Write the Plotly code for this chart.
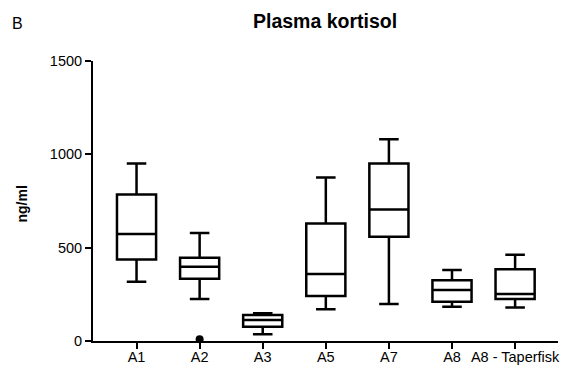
import plotly.graph_objects as go

categories = ["A1", "A2", "A3", "A5", "A7", "A8", "A8 - Taperfisk"]
lower_whisker = [317, 225, 36, 170, 198, 184, 180]
q1_vals = [437, 333, 77, 241, 558, 210, 225]
median_vals = [573, 398, 112, 359, 705, 273, 252]
q3_vals = [785, 446, 139, 630, 951, 325, 385]
upper_whisker = [951, 578, 148, 876, 1081, 380, 462]
outlier_x = ["A2"]
outlier_y = [10]
y_ticks = [0, 500, 1000, 1500]

# plot area in pixels
L, R, T, B = 93, 558, 61, 341
W, H = R - L, B - T


def px(x):
    return (x - L) / W


def py(y):
    return (B - y) / H


fig = go.Figure()
fig.add_trace(go.Box(
    x=categories, q1=q1_vals, median=median_vals, q3=q3_vals,
    lowerfence=lower_whisker, upperfence=upper_whisker,
    width=0.62, whiskerwidth=0.5,
    line=dict(color="black", width=2.5), fillcolor="rgba(255,255,255,0)",
    boxpoints=False, showlegend=False,
))
fig.add_trace(go.Scatter(
    x=outlier_x, y=outlier_y, mode="markers",
    marker=dict(color="black", size=8), showlegend=False, cliponaxis=False,
))

font_family = "Liberation Sans, Arial, sans-serif"
fig.update_layout(
    width=564, height=367,
    margin=dict(l=L, r=564 - R, t=T, b=367 - B, autoexpand=False),
    paper_bgcolor="white", plot_bgcolor="white",
    font=dict(family=font_family, size=14.5, color="black"),
    annotations=[
        dict(text="<b>Plasma kortisol</b>", x=px(325), y=py(20.5), xref="paper", yref="paper",
             xanchor="center", yanchor="middle", showarrow=False, font=dict(size=19.5)),
        dict(text="B", x=px(17.5), y=py(23), xref="paper", yref="paper",
             xanchor="center", yanchor="middle", showarrow=False, font=dict(size=16)),
        dict(text="<b>ng/ml</b>", x=px(21.5), y=py(204), xref="paper", yref="paper",
             xanchor="center", yanchor="middle", showarrow=False, textangle=-90,
             font=dict(size=14)),
    ],
)
fig.update_xaxes(
    type="category", categoryorder="array", categoryarray=categories,
    range=[-0.69, 6.68], showline=True, linecolor="black", linewidth=2,
    ticks="outside", ticklen=6, tickwidth=2, tickcolor="black",
    showgrid=False, zeroline=False, automargin=False, tickfont=dict(size=14.5),
    ticklabelstandoff=-4,
)
fig.update_yaxes(
    range=[0, 1500], tickvals=y_ticks, showline=True, linecolor="black", linewidth=2,
    ticks="outside", ticklen=6, tickwidth=2, tickcolor="black",
    showgrid=False, zeroline=False, automargin=False, tickfont=dict(size=14.5),
)

fig.write_html(
    "out.html",
    config={"displayModeBar": False},
    post_script="document.body.style.margin='0px';document.body.style.overflow='hidden';",
)
